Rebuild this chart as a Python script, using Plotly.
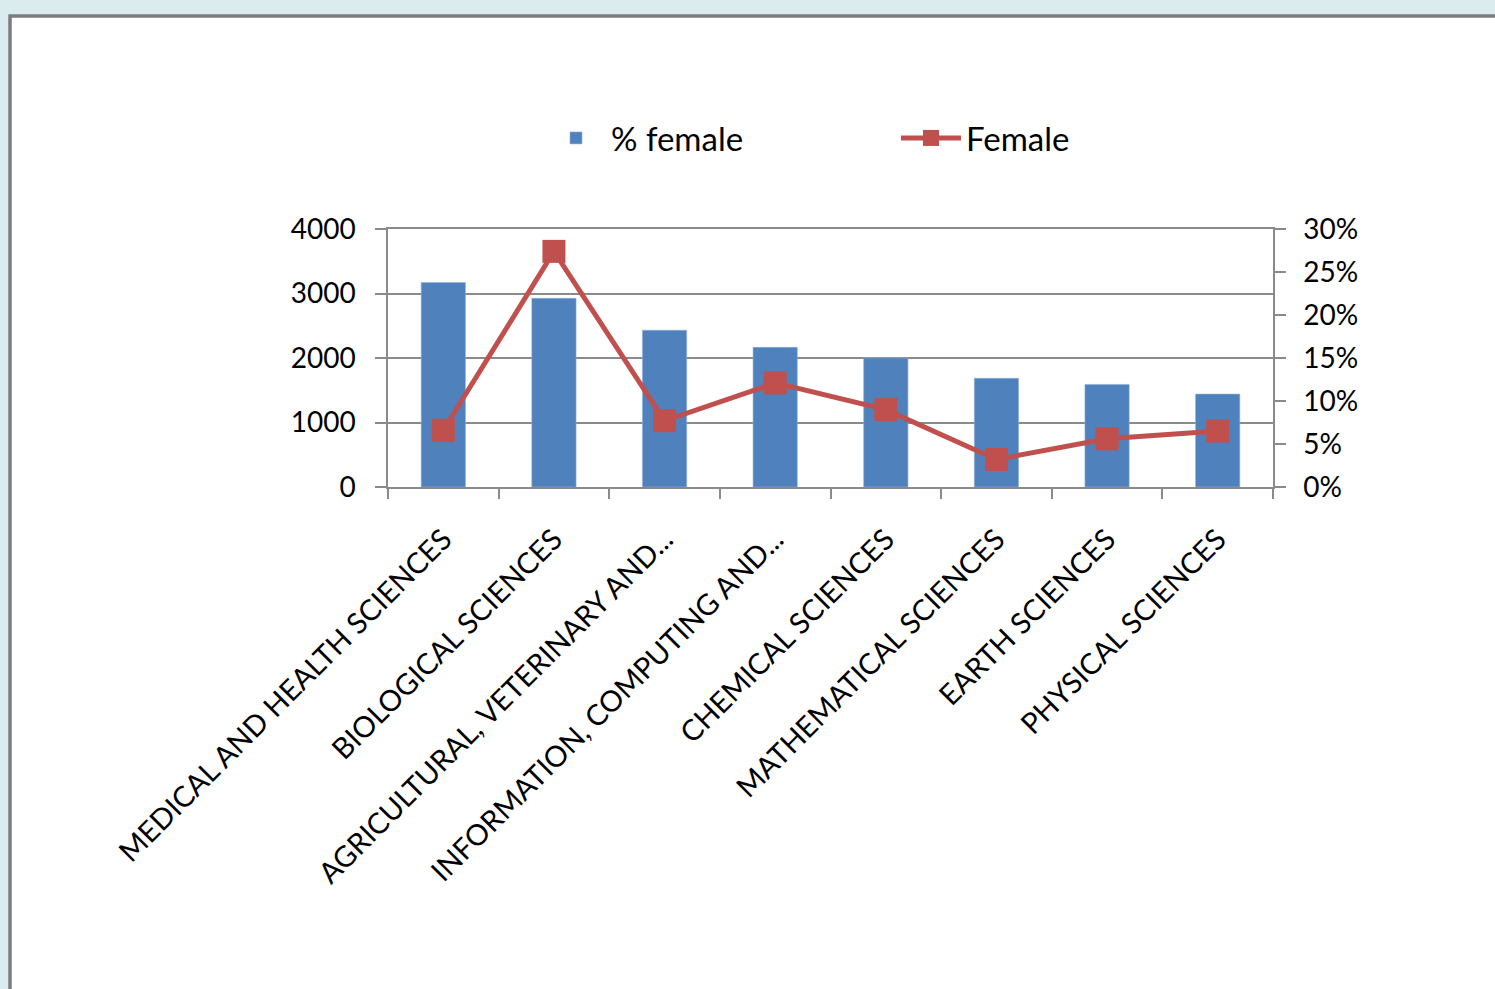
import plotly.graph_objects as go

# Fields of research, bar counts (left axis) and female share (right axis)
categories = [
    "MEDICAL AND HEALTH SCIENCES",
    "BIOLOGICAL SCIENCES",
    "AGRICULTURAL, VETERINARY AND...",
    "INFORMATION, COMPUTING AND...",
    "CHEMICAL SCIENCES",
    "MATHEMATICAL SCIENCES",
    "EARTH SCIENCES",
    "PHYSICAL SCIENCES",
]
bar_values = [3170, 2925, 2430, 2165, 2000, 1685, 1590, 1440]
female_share = [0.066, 0.274, 0.077, 0.121, 0.090, 0.032, 0.056, 0.065]

left_ticks = [0, 1000, 2000, 3000, 4000]
right_ticks = [0, 0.05, 0.10, 0.15, 0.20, 0.25, 0.30]

BLUE = "#4f81bd"
RED = "#c0504d"
GREY = "#8a8a8a"
FONT = "Lato, 'Open Sans', sans-serif"

W, H = 1495, 989
L, R, T, B = 388, 222, 229, 502
pw, ph = W - L - R, H - T - B


def px_x(x):
    return (x - L) / pw


def px_y(y):
    return (H - B - y) / ph


fig = go.Figure()

fig.add_trace(go.Bar(
    x=categories, y=bar_values, name="% female",
    marker=dict(color=BLUE, line=dict(color="#8fb0d8", width=0.6)),
    width=0.4, yaxis="y",
))

fig.add_trace(go.Scatter(
    x=categories, y=female_share, name="Female", yaxis="y2",
    mode="lines+markers",
    line=dict(color=RED, width=5),
    marker=dict(symbol="square", size=23, color=RED),
))

# Slide frame behind the chart
fig.add_shape(
    type="rect", xref="paper", yref="paper", layer="below",
    x0=px_x(10), x1=px_x(W + 20), y0=px_y(H + 20), y1=px_y(16),
    fillcolor="white", line=dict(color="#7d7d7d", width=3.5),
)

fig.update_layout(
    width=W, height=H,
    margin=dict(l=L, r=R, t=T, b=B, pad=0),
    paper_bgcolor="#dbecf1",
    plot_bgcolor="rgba(0,0,0,0)",
    font=dict(family=FONT, color="black", size=26),
    bargap=0.6,
    showlegend=True,
    legend=dict(
        orientation="h", x=px_x(541), y=px_y(138), xanchor="left", yanchor="middle",
        font=dict(size=33, family=FONT), entrywidth=280, entrywidthmode="pixels",
        itemwidth=60, bgcolor="rgba(0,0,0,0)",
    ),
    xaxis=dict(
        type="category", range=[-0.5, len(categories) - 0.5],
        tickangle=-45, tickson="boundaries",
        ticks="outside", ticklen=10, tickcolor=GREY, tickwidth=1.5,
        showline=True, linecolor=GREY, linewidth=1.5, mirror=True,
        showgrid=False, tickfont=dict(size=29, family=FONT),
        ticklabelstandoff=22, automargin=False,
    ),
    yaxis=dict(
        range=[0, 4000], tickvals=left_ticks, ticktext=[str(v) for v in left_ticks],
        ticks="outside", ticklen=11, tickcolor=GREY, tickwidth=1.5,
        showline=True, linecolor=GREY, linewidth=1.5,
        showgrid=True, gridcolor=GREY, gridwidth=1.5, zeroline=False,
        tickfont=dict(size=28, family=FONT), ticklabelstandoff=14,
        automargin=False,
    ),
    yaxis2=dict(
        range=[0, 0.30], tickvals=right_ticks,
        ticktext=[f"{round(v * 100)}%" for v in right_ticks],
        overlaying="y", side="right",
        ticks="outside", ticklen=11, tickcolor=GREY, tickwidth=1.5,
        showline=True, linecolor=GREY, linewidth=1.5,
        showgrid=False, zeroline=False,
        tickfont=dict(size=28, family=FONT), ticklabelstandoff=12,
        automargin=False,
    ),
)

fig.write_html("out.html")
